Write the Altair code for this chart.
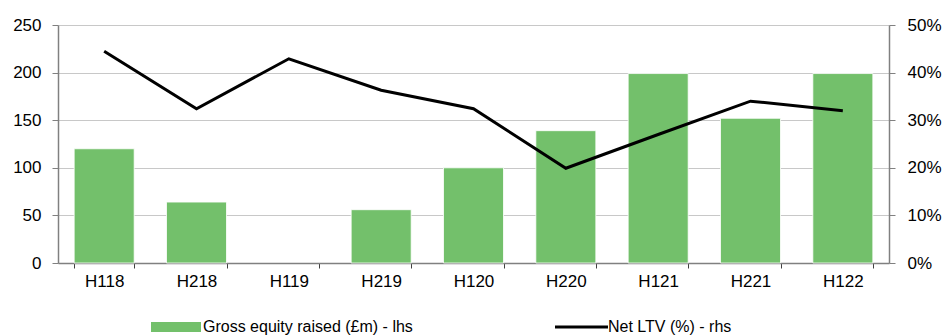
import altair as alt
import pandas as pd

periods = ["H118", "H218", "H119", "H219", "H120", "H220", "H121", "H221", "H122"]
equity = [120, 64, None, 56, 100, 139, 199, 152, 199]
ltv = [44.5, 32.4, 42.9, 36.3, 32.4, 19.9, 27.0, 34.0, 32.0]
bar_name = "Gross equity raised (£m) - lhs"
line_name = "Net LTV (%) - rhs"

df = pd.DataFrame({"period": periods, "equity": equity, "ltv": ltv,
                   "s1": bar_name, "s2": line_name})

FONT = "Liberation Sans, Arial, sans-serif"
FS = 17
LFS = 16
GREEN = "#73c06b"

x = alt.X("period:N", sort=periods, title=None,
          scale=alt.Scale(paddingInner=0.35, paddingOuter=0.175),
          axis=alt.Axis(labelAngle=0, tickBand="extent", domainColor="#808080",
                        tickColor="#404040", tickSize=5, labelPadding=5,
                        labelFont=FONT, labelFontSize=FS, labelColor="#000000"))

bars = alt.Chart(df).mark_bar(stroke="#ffffff", strokeWidth=0.8).encode(
    x=x,
    y=alt.Y("equity:Q", title=None,
            scale=alt.Scale(domain=[0, 250], nice=False),
            axis=alt.Axis(values=[0, 50, 100, 150, 200, 250], grid=True,
                          gridColor="#c8c8c8", gridWidth=1,
                          domainColor="#808080", tickColor="#808080", tickSize=6,
                          labelPadding=11, labelFont=FONT, labelFontSize=FS,
                          labelColor="#000000")),
    fill=alt.Fill("s1:N", scale=alt.Scale(range=[GREEN]),
                  legend=alt.Legend(orient="none", legendX=90, legendY=294, title=None,
                                    symbolType="M-1,-1H9V1H-1Z", symbolSize=100,
                                    symbolStrokeWidth=0, padding=0, labelOffset=39,
                                    labelLimit=400,
                                    labelFont=FONT, labelFontSize=LFS, labelColor="#000000")),
)

line = alt.Chart(df).mark_line(color="#000000", strokeWidth=3).encode(
    x=x,
    y=alt.Y("ltv:Q", title=None,
            scale=alt.Scale(domain=[0, 50], nice=False),
            axis=alt.Axis(orient="right", values=[0, 10, 20, 30, 40, 50], grid=False,
                          labelExpr="datum.value + '%'",
                          domainColor="#808080", tickColor="#808080", tickSize=6,
                          labelPadding=12, labelFont=FONT, labelFontSize=FS,
                          labelColor="#000000")),
    stroke=alt.Stroke("s2:N", scale=alt.Scale(range=["#000000"]),
                      legend=alt.Legend(orient="none", legendX=494, legendY=294, title=None,
                                        symbolType="M-1,0H9.6", symbolSize=100,
                                        symbolStrokeWidth=3, padding=0, labelOffset=40,
                                        labelLimit=400,
                                        labelFont=FONT, labelFontSize=LFS, labelColor="#000000")),
)

chart = alt.layer(bars, line).resolve_scale(y="independent").properties(
    width=831, height=238,
    autosize=alt.AutoSizeParams(type="none"),
    padding={"left": 58, "top": 25, "right": 54, "bottom": 73},
).configure_view(stroke=None).configure_axis(domainWidth=1.5)

chart.save("out.html", embed_options={"renderer": "svg", "actions": False})
